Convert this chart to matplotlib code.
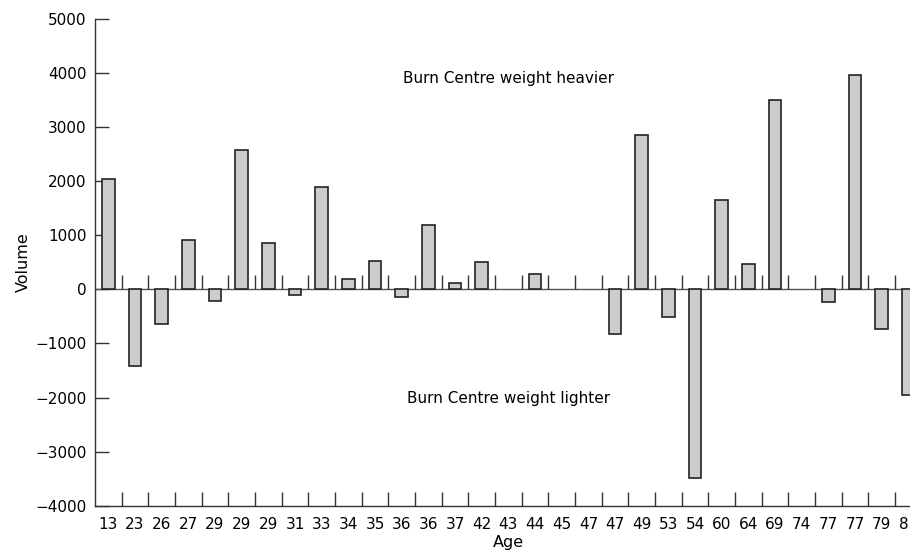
import numpy as np
import matplotlib
matplotlib.use('Agg')
import matplotlib.pyplot as plt

ages = ['13', '23', '26', '27', '29', '29', '29', '31', '33', '34', '35', '36', '36', '37', '42', '43',
        '44', '45', '47', '47', '49', '53', '54', '60', '64', '69', '74', '77', '77', '79', '81']
volume = [2040, -1420, -635, 920, -210, 2580, 855, -105, 1900, 200, 525, -140, 1190, 120, 500, 0,
          290, 0, 0, -830, 2860, -510, -3490, 1660, 470, 3500, 0, -235, 3970, -740, -1960]

fig = plt.figure(figsize=(9.1, 5.58), dpi=100)
ax = fig.add_axes([0.1044, 0.0937, 0.9085, 0.8722])

x = np.arange(len(ages))
bars = ax.bar(x, volume, width=0.48, color='#cccccc', edgecolor='#222222', linewidth=1.2, zorder=3)
for b, v in zip(bars, volume):
    if v == 0:
        b.set_linewidth(0)
ax.axhline(0, color='#555555', linewidth=1.0, zorder=2)

bounds = np.arange(0.5, len(ages) - 0.5, 1.0)
ax.vlines(bounds, 0, 260, color='#333333', linewidth=1.0, zorder=2)

ax.set_xlim(-0.5, len(ages) - 0.5)
ax.set_ylim(-4000, 5000)
ax.set_yticks(np.arange(-4000, 5001, 1000))
ax.tick_params(axis='y', direction='in', length=10, width=1.0, color='#333333', labelsize=11, pad=6)

ax.set_xticks(x)
ax.set_xticklabels(ages)
ax.set_xticks(bounds, minor=True)
ax.tick_params(axis='x', which='major', length=0, labelsize=11, pad=8)
ax.tick_params(axis='x', which='minor', direction='in', length=10, width=1.0, color='#333333')

for side in ['top', 'right']:
    ax.spines[side].set_visible(False)
for side in ['left', 'bottom']:
    ax.spines[side].set_color('#333333')
    ax.spines[side].set_linewidth(1.0)

ax.text(15, 3900, 'Burn Centre weight heavier', ha='center', va='center', fontsize=11)
ax.text(15, -2010, 'Burn Centre weight lighter', ha='center', va='center', fontsize=11)

ax.set_ylabel('Volume', fontsize=11.5, labelpad=3)
ax.set_xlabel('Age', fontsize=11.5, labelpad=2)

fig.savefig('out.png', dpi=100)
